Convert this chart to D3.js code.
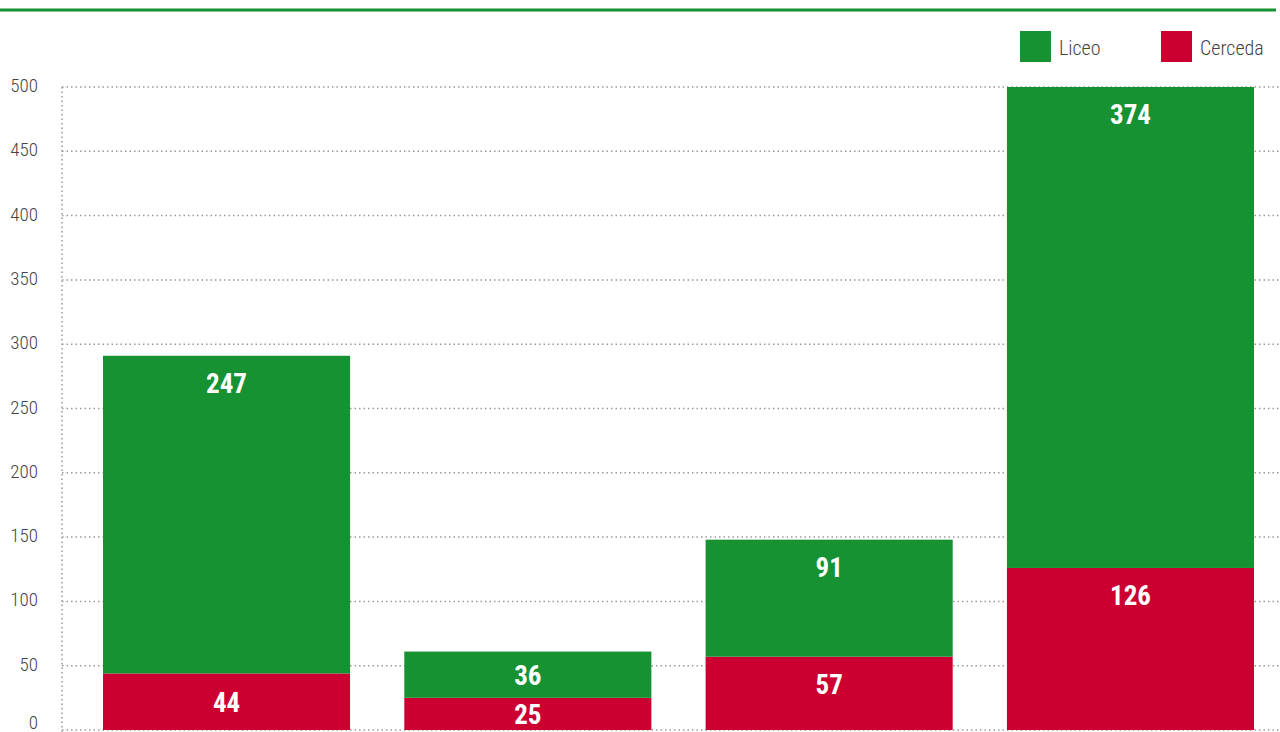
<!DOCTYPE html><html><head><meta charset="utf-8"><script src="https://cdn.jsdelivr.net/npm/d3@7"></script>
<style>body{margin:0;background:#fff}svg{display:block}</style></head><body><svg id="c" width="1280" height="732"></svg>
<script>
const categories=["1","2","3","4"];
const cerceda=[44,25,57,126];
const liceo=[247,36,91,374];
const yTicks=[0,50,100,150,200,250,300,350,400,450,500];
const seriesNames=["Liceo","Cerceda"];
const colors={Liceo:"#169232",Cerceda:"#cc0030"};
const F="'Liberation Sans Narrow','Roboto Condensed',Roboto,sans-serif";
const svg=d3.select("#c");
svg.append("line").attr("x1",0).attr("x2",1276).attr("y1",10).attr("y2",10).attr("stroke","#169232").attr("stroke-width",3);
const y=d3.scaleLinear().domain([0,500]).range([730,87]);
const x=d3.scaleBand().domain(categories).range([103,1254]).paddingInner(0.18).paddingOuter(0);
const g=svg.append("g");
yTicks.forEach(t=>{g.append("line").attr("x1",62).attr("x2",1280).attr("y1",y(t)).attr("y2",y(t)).attr("stroke","#999").attr("stroke-width",1.5).attr("stroke-dasharray","1.5,3");
g.append("text").attr("x",38).attr("y",Math.min(y(t)+5,729)).attr("text-anchor","end").attr("font-family",F).attr("font-weight",300).attr("font-size",19).attr("fill","#444").text(t);});
g.append("line").attr("x1",62).attr("x2",62).attr("y1",87).attr("y2",732).attr("stroke","#999").attr("stroke-width",1.5).attr("stroke-dasharray","1.5,3");
const data=categories.map((c,i)=>({c,Cerceda:cerceda[i],Liceo:liceo[i]}));
const stack=d3.stack().keys(["Cerceda","Liceo"])(data);
stack.forEach(s=>{s.forEach(d=>{
 const x0=x(d.data.c),w=x.bandwidth();
 svg.append("rect").attr("x",x0).attr("width",w).attr("y",y(d[1])).attr("height",y(d[0])-y(d[1])).attr("fill",colors[s.key]);
 const h=y(d[0])-y(d[1]);
 const ty=h>60?y(d[1])+37:(y(d[0])+y(d[1]))/2+10;
 svg.append("text").attr("x",x0+w/2).attr("y",ty).attr("text-anchor","middle").attr("font-family",F).attr("font-weight","bold").attr("font-size",27).attr("fill","#fff").text(d[1]-d[0]);
});});
const lg=svg.append("g");
seriesNames.forEach((n,i)=>{const lx=[1020,1161][i];
 lg.append("rect").attr("x",lx).attr("y",31).attr("width",31).attr("height",31).attr("fill",colors[n]);
 lg.append("text").attr("x",lx+39).attr("y",55).attr("font-family",F).attr("font-weight",300).attr("font-size",20).attr("fill","#444").text(n);});
</script></body></html>
